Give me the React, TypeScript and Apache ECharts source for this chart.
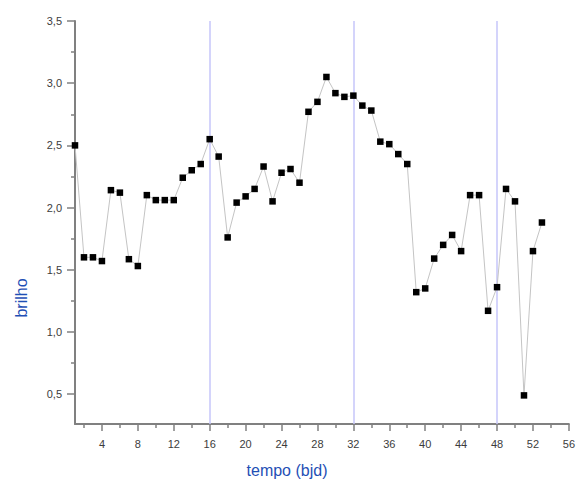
import React, { useEffect, useRef } from "react";
import * as echarts from "echarts";

const xValues: number[] = Array.from({ length: 53 }, (_, i) => i + 1);
const brilho: number[] = [
  2.5, 1.6, 1.6, 1.57, 2.14, 2.12, 1.585, 1.53, 2.1, 2.06,
  2.06, 2.06, 2.24, 2.3, 2.35, 2.55, 2.41, 1.76, 2.04, 2.09,
  2.15, 2.33, 2.05, 2.28, 2.31, 2.2, 2.77, 2.85, 3.05, 2.92,
  2.89, 2.9, 2.82, 2.78, 2.53, 2.51, 2.43, 2.35, 1.32, 1.35,
  1.59, 1.7, 1.78, 1.65, 2.1, 2.1, 1.17, 1.36, 2.15, 2.05,
  0.49, 1.65, 1.88,
];
const markerX: number[] = [16, 32, 48];
const xMajorTicks: number[] = [4, 8, 12, 16, 20, 24, 28, 32, 36, 40, 44, 48, 52, 56];
const xMinorTicks: number[] = [2, 6, 10, 14, 18, 22, 26, 30, 34, 38, 42, 46, 50, 54];
const yMajorTicks: number[] = [0.5, 1.0, 1.5, 2.0, 2.5, 3.0, 3.5];
const yMinorTicks: number[] = [0.75, 1.25, 1.75, 2.25, 2.75, 3.25];

const X_MIN = 1;
const X_MAX = 56;
const Y_MIN = 0.26;
const Y_MAX = 3.5;

const axisColor = "#808080";
const labelColor = "#3c3c3c";
const titleColor = "#1f4fb5";
const font = "'Liberation Sans', Arial, sans-serif";

export default function App() {
  const ref = useRef<HTMLDivElement>(null);
  useEffect(() => {
    if (!ref.current) return;
    const chart = echarts.init(ref.current, undefined, { renderer: "svg" });
    const fmtY = (v: number) => v.toFixed(1).replace(".", ",");
    const baseX = {
      type: "value" as const,
      min: X_MIN,
      max: X_MAX,
      splitLine: { show: false },
    };
    const baseY = {
      type: "value" as const,
      min: Y_MIN,
      max: Y_MAX,
      splitLine: { show: false },
    };
    chart.setOption({
      animation: false,
      backgroundColor: "#ffffff",
      grid: { left: 75, right: 7.5, top: 21, bottom: 62, containLabel: false },
      xAxis: [
        {
          ...baseX,
          axisLine: { show: true, onZero: false, lineStyle: { color: axisColor, width: 2 } },
          axisTick: { show: true, customValues: xMajorTicks, length: 7, lineStyle: { color: axisColor, width: 1.5 } },
          axisLabel: {
            customValues: xMajorTicks,
            color: labelColor,
            fontSize: 11,
            fontFamily: font,
            margin: 14,
          },
        },
        {
          ...baseX,
          position: "bottom",
          axisLine: { show: false, onZero: false },
          axisTick: { show: true, customValues: xMinorTicks, length: 4, lineStyle: { color: axisColor, width: 1.5 } },
          axisLabel: { show: false },
        },
      ],
      yAxis: [
        {
          ...baseY,
          axisLine: { show: true, onZero: false, lineStyle: { color: axisColor, width: 2 } },
          axisTick: { show: true, customValues: yMajorTicks, length: 8, lineStyle: { color: axisColor, width: 1.5 } },
          axisLabel: {
            customValues: yMajorTicks,
            formatter: fmtY,
            color: labelColor,
            fontSize: 11,
            fontFamily: font,
            margin: 13,
          },
        },
        {
          ...baseY,
          position: "left",
          axisLine: { show: false, onZero: false },
          axisTick: { show: true, customValues: yMinorTicks, length: 4, lineStyle: { color: axisColor, width: 1.5 } },
          axisLabel: { show: false },
        },
      ],
      graphic: [
        {
          type: "text",
          x: 287,
          y: 470,
          style: {
            text: "tempo (bjd)",
            fill: titleColor,
            font: `16px ${font}`,
            textAlign: "center",
            textVerticalAlign: "middle",
          },
        },
        {
          type: "text",
          x: 21,
          y: 298,
          rotation: Math.PI / 2,
          style: {
            text: "brilho",
            fill: titleColor,
            font: `16px ${font}`,
            textAlign: "center",
            textVerticalAlign: "middle",
          },
        },
      ],
      series: [
        {
          type: "line",
          xAxisIndex: 0,
          yAxisIndex: 0,
          data: [],
          z: 1,
          markLine: {
            silent: true,
            z: 1,
            symbol: ["none", "none"],
            label: { show: false },
            lineStyle: { color: "#c6c6fa", width: 1.5, type: "solid" },
            data: markerX.map((x) => ({ xAxis: x })),
          },
        },
        {
          type: "line",
          xAxisIndex: 0,
          yAxisIndex: 0,
          data: xValues.map((x, i) => [x, brilho[i]]),
          symbol: "rect",
          symbolSize: 6.5,
          clip: false,
          itemStyle: { color: "#000000" },
          lineStyle: { color: "#c4c4c4", width: 1 },
          z: 3,
        },
      ],
    });
    return () => chart.dispose();
  }, []);
  return (
    <div
      ref={ref}
      style={{ position: "absolute", left: 0, top: 0, width: 578, height: 486 }}
    />
  );
}
